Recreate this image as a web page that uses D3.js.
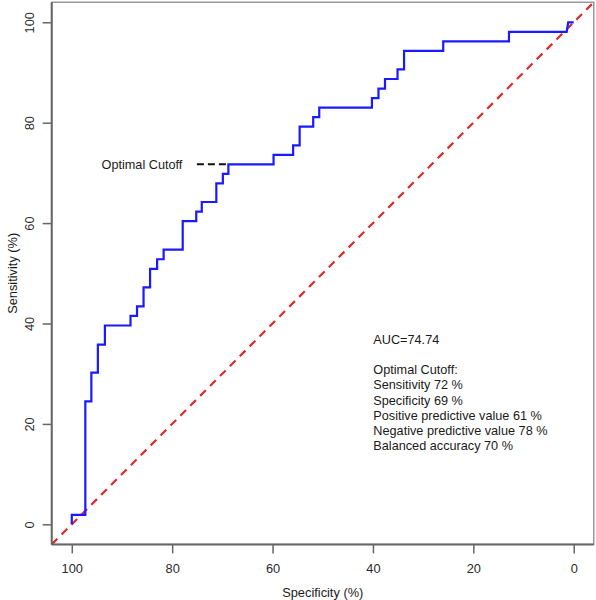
<!DOCTYPE html>
<html>
<head>
<meta charset="utf-8">
<script src="https://cdn.jsdelivr.net/npm/d3@7"></script>
<style>
  html, body { margin: 0; padding: 0; background: #fff; }
  svg { display: block; font-family: "Liberation Sans", Arial, sans-serif; }
</style>
</head>
<body>
<svg id="chart" width="596" height="600"></svg>
<script>
// ROC curve vertices (specificity %, sensitivity %)
const specificity = [100, 100, 97.3, 97.3, 96.1, 96.1, 94.8, 94.8, 93.4, 93.4,
  88.3, 88.3, 87.0, 87.0, 85.7, 85.7, 84.4, 84.4, 83.0, 83.0,
  81.7, 81.7, 77.9, 77.9, 75.2, 75.2, 74.1, 74.1, 71.2, 71.2,
  69.9, 69.9, 68.8, 68.8, 59.8, 59.8, 55.9, 55.9, 54.6, 54.6,
  51.9, 51.9, 50.7, 50.7, 40.2, 40.2, 38.9, 38.9, 37.6, 37.6,
  35.1, 35.1, 33.8, 33.8, 26.0, 26.0, 12.9, 12.9, 1.4, 1.1, 0];
const sensitivity = [0, 1.9, 1.9, 24.5, 24.5, 30.2, 30.2, 35.8, 35.8, 39.6,
  39.6, 41.5, 41.5, 43.4, 43.4, 47.2, 47.2, 50.9, 50.9, 52.8,
  52.8, 54.7, 54.7, 60.4, 60.4, 62.3, 62.3, 64.2, 64.2, 67.9,
  67.9, 69.8, 69.8, 71.7, 71.7, 73.6, 73.6, 75.5, 75.5, 79.2,
  79.2, 81.1, 81.1, 83.0, 83.0, 84.9, 84.9, 86.8, 86.8, 88.7,
  88.7, 90.6, 90.6, 94.3, 94.3, 96.2, 96.2, 98.1, 98.1, 100, 100];

const xTicks = [100, 80, 60, 40, 20, 0];
const yTicks = [0, 20, 40, 60, 80, 100];
const xDomain = [104, -4];
const yDomain = [-4, 104];

const optimalCutoff = { spec: 68.8, sens: 71.7, label: "Optimal Cutoff" };
const infoLines = ["AUC=74.74", "", "Optimal Cutoff:", "Sensitivity 72 %", "Specificity 69 %",
  "Positive predictive value 61 %", "Negative predictive value 78 %", "Balanced accuracy 70 %"];
const xLabel = "Specificity (%)";
const yLabel = "Sensitivity (%)";

const svg = d3.select("#chart");
const pL = 51.7, pR = 593.8, pT = 2.2, pB = 544.4;
const x = d3.scaleLinear().domain(xDomain).range([pL, pR]);
const y = d3.scaleLinear().domain(yDomain).range([pB, pT]);

// box
svg.append("rect")
  .attr("x", pL).attr("y", pT)
  .attr("width", pR - pL).attr("height", pB - pT)
  .attr("fill", "none").attr("stroke", "#8a8a8a").attr("stroke-width", 1.3);

// diagonal reference
svg.append("line")
  .attr("x1", x(104)).attr("y1", y(-4))
  .attr("x2", x(-4)).attr("y2", y(104))
  .attr("stroke", "#dd2a2a").attr("stroke-width", 2.2)
  .attr("stroke-dasharray", "8,6");

// ROC curve
const pts = specificity.map((s, i) => [s, sensitivity[i]]);
svg.append("path")
  .datum(pts)
  .attr("d", d3.line().x(d => x(d[0])).y(d => y(d[1])))
  .attr("fill", "none").attr("stroke", "#1a1aff").attr("stroke-width", 2.2)
  .attr("stroke-linejoin", "miter");

// axes
const xAxis = svg.append("g")
  .attr("transform", `translate(0,${pB})`)
  .call(d3.axisBottom(x).tickValues(xTicks).tickSize(9).tickFormat(d3.format("d")));
xAxis.select(".domain").remove();
xAxis.selectAll(".tick line").attr("stroke", "#666").attr("stroke-width", 1.5);
xAxis.selectAll(".tick text").attr("y", 28.5).attr("dy", 0)
  .attr("font-size", 12.8).attr("fill", "#2a2a2a")
  .attr("font-family", "Liberation Sans, Arial, sans-serif");

const yAxis = svg.append("g")
  .attr("transform", `translate(${pL},0)`)
  .call(d3.axisLeft(y).tickValues(yTicks).tickSize(9).tickFormat(d3.format("d")));
yAxis.select(".domain").remove();
yAxis.selectAll(".tick line").attr("stroke", "#666").attr("stroke-width", 1.5);
yAxis.selectAll(".tick text")
  .attr("x", 0).attr("y", -17.5).attr("dy", 0)
  .attr("transform", "rotate(-90)")
  .attr("text-anchor", "middle")
  .attr("font-size", 12.8).attr("fill", "#2a2a2a")
  .attr("font-family", "Liberation Sans, Arial, sans-serif");

// heavier axis lines along left & bottom
svg.append("line").attr("x1", pL).attr("x2", pL).attr("y1", pT).attr("y2", pB)
  .attr("stroke", "#666").attr("stroke-width", 2);
svg.append("line").attr("x1", pL).attr("x2", pR).attr("y1", pB).attr("y2", pB)
  .attr("stroke", "#666").attr("stroke-width", 2);

// axis titles
svg.append("text")
  .attr("x", (pL + pR) / 2).attr("y", 597)
  .attr("text-anchor", "middle").attr("font-size", 12.8).attr("fill", "#1a1a1a")
  .text(xLabel);
svg.append("text")
  .attr("transform", `translate(16.5,${(pT + pB) / 2}) rotate(-90)`)
  .attr("text-anchor", "middle").attr("font-size", 12.8).attr("fill", "#1a1a1a")
  .text(yLabel);

// optimal cutoff marker
svg.append("line")
  .attr("x1", x(optimalCutoff.spec) - 31.5).attr("x2", x(optimalCutoff.spec))
  .attr("y1", y(optimalCutoff.sens)).attr("y2", y(optimalCutoff.sens))
  .attr("stroke", "#111").attr("stroke-width", 2).attr("stroke-dasharray", "7,4");
svg.append("text")
  .attr("x", x(optimalCutoff.spec) - 46).attr("y", y(optimalCutoff.sens) + 4.5)
  .attr("text-anchor", "end").attr("font-size", 12.7).attr("fill", "#1a1a1a")
  .text(optimalCutoff.label);

// info text
svg.append("g").selectAll("text").data(infoLines).join("text")
  .attr("x", 373.3)
  .attr("y", (d, i) => 343.7 + i * 15.2)
  .attr("font-size", 12.7).attr("fill", "#1a1a1a")
  .text(d => d);
</script>
</body>
</html>
